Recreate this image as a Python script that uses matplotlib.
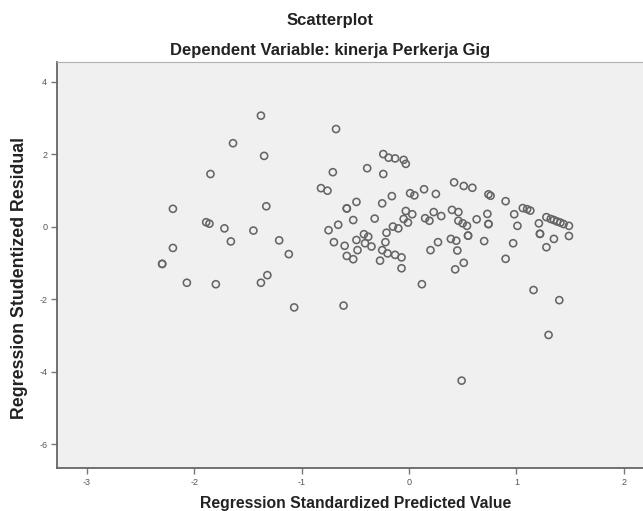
import matplotlib.pyplot as plt

# studentized residual vs standardized predicted value
pred = [-1.38, -1.64, -1.35, -1.85, -2.20, -1.33, -1.89, -1.86, -1.72, -1.45,
        -1.66, -1.21, -1.12, -2.20, -2.30, -2.30, -2.07, -1.80, -1.38, -1.32,
        -1.07,
        -0.68, -0.24, -0.19, -0.13, -0.05, -0.03, -0.71, -0.39, -0.24, -0.82,
        -0.76, 0.14, 0.01, 0.05, -0.49, -0.58, -0.58, -0.25, -0.16, -0.03,
        0.03, -0.32, -0.52, -0.66, -0.75, -0.70, -0.05, -0.01, -0.15, -0.10,
        -0.21, -0.42, -0.38, -0.49, -0.41, -0.35, -0.22, -0.60, -0.48, -0.58,
        -0.52, -0.25, -0.20, -0.13, -0.07, -0.27, -0.07, 0.12, -0.61,
        0.25, 0.42, 0.51, 0.59, 0.74, 0.76, 0.90, 0.40, 0.46, 0.23,
        0.15, 0.19, 0.30, 0.46, 0.50, 0.54, 0.55, 0.55, 0.63, 0.73,
        0.74, 0.74, 0.98, 1.01, 1.06, 1.10, 1.13, 1.21, 1.28, 1.35,
        1.38, 1.44, 1.49, 1.49, 1.22, 1.22, 1.35, 1.28, 0.70, 0.97,
        0.39, 0.44, 0.27, 0.20, 0.45, 0.51, 0.43, 0.90, 1.16, 1.40,
        1.30, 0.49, 1.32, 1.41]
resid = [3.07, 2.31, 1.96, 1.46, 0.50, 0.57, 0.13, 0.09, -0.04, -0.10,
         -0.40, -0.37, -0.75, -0.58, -1.02, -1.02, -1.54, -1.58, -1.54, -1.33,
         -2.22,
         2.70, 2.01, 1.91, 1.89, 1.85, 1.74, 1.51, 1.62, 1.46, 1.07,
         1.00, 1.04, 0.93, 0.87, 0.69, 0.51, 0.51, 0.65, 0.85, 0.44,
         0.35, 0.23, 0.19, 0.06, -0.09, -0.42, 0.22, 0.12, 0.01, -0.04,
         -0.16, -0.20, -0.27, -0.36, -0.45, -0.54, -0.42, -0.52, -0.64, -0.80,
         -0.89, -0.64, -0.73, -0.77, -0.84, -0.93, -1.14, -1.58, -2.17,
         0.91, 1.23, 1.13, 1.08, 0.90, 0.86, 0.71, 0.47, 0.41, 0.41,
         0.24, 0.17, 0.30, 0.17, 0.10, 0.03, -0.24, -0.24, 0.21, 0.36,
         0.08, 0.08, 0.35, 0.03, 0.52, 0.49, 0.45, 0.10, 0.27, 0.19,
         0.15, 0.08, 0.03, -0.25, -0.19, -0.19, -0.33, -0.56, -0.39, -0.45,
         -0.33, -0.38, -0.42, -0.64, -0.65, -0.99, -1.17, -0.88, -1.74, -2.02,
         -2.98, -4.24, 0.22, 0.12]

xticks = [-3, -2, -1, 0, 1, 2]
yticks = [-6, -4, -2, 0, 2, 4]

plt.rcParams['font.family'] = ['Liberation Sans', 'DejaVu Sans']
plt.rcParams['axes.unicode_minus'] = False

fig = plt.figure(figsize=(6.43, 5.11), dpi=100)
ax = fig.add_axes([57/643, 43/511, 1 - 57/643, 406/511])
ax.set_facecolor("#f0f0f0")

ax.scatter(pred, resid, s=26, facecolors="none", edgecolors="#656565", linewidths=1.15)

ax.set_xlim(-3.28, 2.18)
ax.set_ylim(-6.65, 4.55)
ax.set_xticks(xticks)
ax.set_yticks(yticks)
ax.tick_params(length=4, width=1, colors="#777777", labelsize=6.5, labelcolor="#555555", pad=3)

for s in ["left", "bottom"]:
    ax.spines[s].set_color("#666666")
    ax.spines[s].set_linewidth(1.3)
ax.spines["top"].set_color("#b0b0b0")
ax.spines["right"].set_visible(False)

fig.text(330/643, 1 - 20/511, "Scatterplot", ha="center", va="center",
         fontsize=12, fontweight="bold", color="#222222")
fig.text(330/643, 1 - 50/511, "Dependent Variable: kinerja Perkerja Gig", ha="center", va="center",
         fontsize=12, fontweight="bold", color="#222222")
fig.text(356/643, 1 - 503/511, "Regression Standardized Predicted Value", ha="center", va="center",
         fontsize=11.3, fontweight="bold", color="#222222")
fig.text(20/643, 1 - 278/511, "Regression Studentized Residual", ha="center", va="center",
         rotation=90, fontsize=12.8, fontweight="bold", color="#222222")

fig.savefig("out.png", dpi=100)
